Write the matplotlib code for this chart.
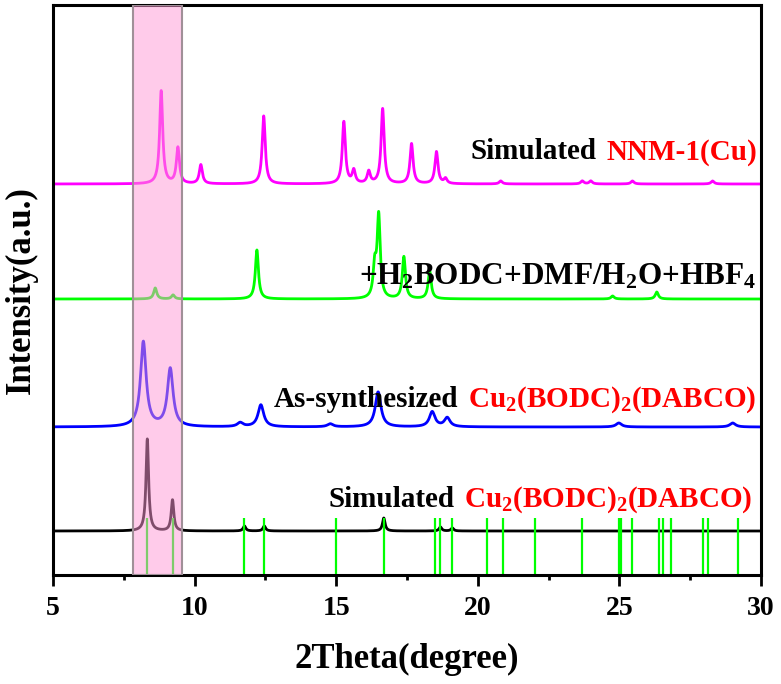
import numpy as np
import matplotlib
matplotlib.use("Agg")
import matplotlib.pyplot as plt
from matplotlib.offsetbox import TextArea, HPacker, AnnotationBbox
from matplotlib.ticker import MultipleLocator

plt.rcParams['font.family'] = ['Liberation Serif', 'DejaVu Serif']
plt.rcParams['font.weight'] = 'bold'
plt.rcParams['mathtext.fontset'] = 'custom'
plt.rcParams['mathtext.rm'] = 'Liberation Serif:bold'
plt.rcParams['mathtext.it'] = 'Liberation Serif:bold'
plt.rcParams['mathtext.bf'] = 'Liberation Serif:bold'

# Peak lists (2theta, height)
nnm_pos = [8.82, 9.41, 10.22, 12.44, 15.27, 15.62, 16.15, 16.64, 17.66, 18.54, 18.86,
           20.81, 23.69, 23.99, 25.46, 28.29]
nnm_h = [93, 36, 19, 68, 62, 13, 12, 75, 40, 32, 5, 3, 3, 3, 3, 3]

treat_pos = [8.61, 9.24, 12.20, 16.36, 16.50, 17.39, 18.30, 24.76, 26.32]
treat_h = [11, 4, 49, 30, 82, 42, 28, 3, 7]

as_pos = [8.19, 9.14, 11.61, 12.34, 14.79, 16.48, 18.39, 18.92, 24.98, 29.00]
as_h = [85, 58, 4, 22, 3, 35, 15, 9, 4, 4]

sim_pos = [8.33, 9.22, 11.76, 12.46, 16.68, 18.68, 19.10]
sim_h = [92, 31, 5, 5, 13, 4, 3]

stick_pos = [8.33, 9.22, 11.76, 12.46, 15.00, 16.68, 18.50, 18.65, 19.09, 20.32, 20.88,
             22.01, 23.68, 24.99, 25.07, 25.46, 26.41, 26.53, 26.82, 27.95, 28.12, 29.20]

band = (7.82, 9.55)

two_theta = np.linspace(5, 30, 6000)


def profile(pos, h, fwhm):
    y = np.zeros_like(two_theta)
    g = fwhm / 2
    for p, a in zip(pos, h):
        y += a * g**2 / ((two_theta - p)**2 + g**2)
    return y


fig = plt.figure(figsize=(7.81, 6.84), dpi=100)
ax = fig.add_axes([53 / 781, 1 - 575 / 684, 708 / 781, 570 / 684])

lw = 2.0
ax.plot(two_theta, 391 + profile(nnm_pos, nnm_h, 0.13), color='#FF00FF', lw=lw)
ax.plot(two_theta, 276 + profile(treat_pos, treat_h, 0.13), color='#00FF00', lw=lw)
ax.plot(two_theta, 148 + profile(as_pos, as_h, 0.24), color='#0000FF', lw=lw)
ax.plot(two_theta, 44 + profile(sim_pos, sim_h, 0.11), color='black', lw=lw)
ax.vlines(stick_pos, 0, 57, color='#00FF00', lw=1.6)

ax.axvspan(band[0], band[1], facecolor=(1.0, 0.6, 0.84, 0.5),
           edgecolor='#A09098', lw=1.5, zorder=5)


def label(parts, y, x=29.85, size=21):
    areas = [TextArea(t, textprops=dict(color=c, fontsize=size, fontweight='bold'))
             for t, c in parts]
    box = HPacker(children=areas, pad=0, sep=7, align='baseline')
    ab = AnnotationBbox(box, (x, y), xycoords='data', box_alignment=(1, 0.5),
                        frameon=False, pad=0)
    ax.add_artist(ab)


label([("Simulated", 'black'), ("NNM-1(Cu)", 'red')], 423)
label([(r"+H$_2$BODC+DMF/H$_2$O+HBF$_4$", 'black')], 298, size=22.5)
label([("As-synthesized", 'black'), (r"Cu$_2$(BODC)$_2$(DABCO)", 'red')], 175)
label([("Simulated", 'black'), (r"Cu$_2$(BODC)$_2$(DABCO)", 'red')], 75, x=29.7)

ax.set_xlim(5, 30)
ax.set_ylim(0, 570)
ax.xaxis.set_major_locator(MultipleLocator(5))
ax.xaxis.set_minor_locator(MultipleLocator(2.5))
ax.tick_params(axis='x', which='major', direction='out', length=8, width=2,
               labelsize=20, pad=7)
ax.tick_params(axis='x', which='minor', direction='out', length=3.5, width=2)
ax.set_yticks([])
for s in ax.spines.values():
    s.set_linewidth(2.2)

ax.set_xlabel("2Theta(degree)", fontsize=25, fontweight='bold', labelpad=16)
ax.set_ylabel("Intensity(a.u.)", fontsize=25, fontweight='bold', labelpad=11)

fig.savefig("out.png", dpi=100)
